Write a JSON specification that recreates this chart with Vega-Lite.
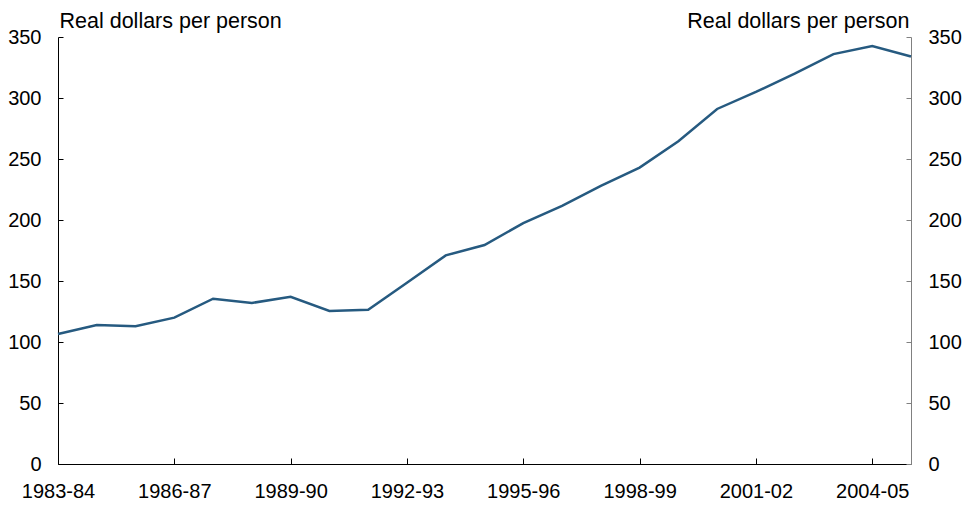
{
  "$schema": "https://vega.github.io/schema/vega-lite/v6.json",
  "width": 853,
  "height": 427,
  "autosize": "none",
  "padding": {"left": 58, "top": 37, "right": 59, "bottom": 41},
  "background": "white",
  "config": {
    "view": {"stroke": null},
    "font": "Liberation Sans",
    "axis": {
      "labelFont": "Liberation Sans",
      "titleFont": "Liberation Sans",
      "labelFontSize": 20,
      "titleFontSize": 21.5,
      "labelColor": "#000000",
      "titleColor": "#000000",
      "titleFontWeight": "normal",
      "grid": false,
      "domainColor": "#000000",
      "tickColor": "#000000"
    }
  },
  "data": {
    "values": [
      {"year": "1983-84", "value": 106.5},
      {"year": "1984-85", "value": 114},
      {"year": "1985-86", "value": 113},
      {"year": "1986-87", "value": 120},
      {"year": "1987-88", "value": 135.5},
      {"year": "1988-89", "value": 132},
      {"year": "1989-90", "value": 137},
      {"year": "1990-91", "value": 125.5},
      {"year": "1991-92", "value": 126.5},
      {"year": "1992-93", "value": 148.5},
      {"year": "1993-94", "value": 171},
      {"year": "1994-95", "value": 179.5},
      {"year": "1995-96", "value": 197.5},
      {"year": "1996-97", "value": 211.5},
      {"year": "1997-98", "value": 228},
      {"year": "1998-99", "value": 243},
      {"year": "1999-00", "value": 264.5},
      {"year": "2000-01", "value": 291},
      {"year": "2001-02", "value": 305},
      {"year": "2002-03", "value": 320},
      {"year": "2003-04", "value": 336},
      {"year": "2004-05", "value": 342.5},
      {"year": "2005-06", "value": 334}
    ]
  },
  "encoding": {
    "x": {
      "field": "year",
      "type": "ordinal",
      "sort": null,
      "scale": {"type": "point", "padding": 0},
      "axis": {
        "title": null,
        "values": ["1983-84", "1986-87", "1989-90", "1992-93", "1995-96", "1998-99", "2001-02", "2004-05"],
        "labelAngle": 0,
        "tickSize": -6,
        "labelPadding": 23,
        "domainColor": "#000000"
      }
    }
  },
  "layer": [
    {
      "mark": {"type": "line", "color": "#265A80", "strokeWidth": 2.5},
      "encoding": {
        "y": {
          "field": "value",
          "type": "quantitative",
          "scale": {"domain": [0, 350], "nice": false},
          "axis": {
            "orient": "left",
            "values": [0, 50, 100, 150, 200, 250, 300, 350],
            "tickSize": -5,
            "labelPadding": 22,
            "title": "Real dollars per person",
            "titleAngle": 0,
            "titleAlign": "left",
            "titleBaseline": "alphabetic",
            "titleX": 1,
            "titleY": -10
          }
        }
      }
    },
    {
      "mark": {"type": "line", "color": "#265A80", "strokeWidth": 2.5, "opacity": 0},
      "encoding": {
        "y": {
          "field": "value",
          "type": "quantitative",
          "scale": {"domain": [0, 350], "nice": false},
          "axis": {
            "orient": "right",
            "values": [0, 50, 100, 150, 200, 250, 300, 350],
            "tickSize": -5,
            "labelPadding": 22,
            "domainColor": "#808080",
            "tickColor": "#808080",
            "title": "Real dollars per person",
            "titleAngle": 0,
            "titleAlign": "right",
            "titleBaseline": "alphabetic",
            "titleX": -2,
            "titleY": -10
          }
        }
      }
    }
  ],
  "resolve": {"scale": {"y": "independent"}}
}
